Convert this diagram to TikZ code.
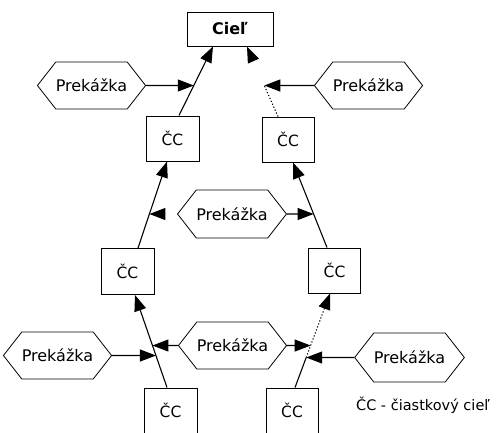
\documentclass[tikz,border=0pt]{standalone}
\usepackage{fontspec}
\setmainfont{DejaVu Sans}
\usetikzlibrary{shapes.symbols,arrows.meta,calc}
\begin{document}
\begin{tikzpicture}[x=1pt,y=-1pt,
  box/.style={draw, line width=1pt, minimum width=53pt, minimum height=45pt, inner sep=0pt, font=\fontsize{15.5}{15.5}\selectfont},
  hexa/.style={draw, line width=0.8pt, signal, signal to=west and east, signal pointer angle=104, minimum height=47pt, inner sep=0pt, font=\fontsize{16}{16}\selectfont},
  arr/.style={line width=1.1pt, -{Triangle[length=16pt,width=12pt]}},
  dotln/.style={line width=1.1pt, dash pattern=on 1.2pt off 2pt},
  lbl/.style={font=\fontsize{14.5}{14.5}\selectfont, inner sep=0pt}
]
\useasboundingbox (0,0) rectangle (502,432);

% nodes
\node[box, minimum width=86pt, minimum height=34pt, font=\fontsize{16}{16}\selectfont\bfseries] (ciel) at (230,29) {Cieľ};
\node[box] (ccL1) at (172.5,138.5) {ČC};
\node[box, minimum height=46pt] (ccL2) at (127.5,271.5) {ČC};
\node[box] (ccL3) at (170.5,410.5) {ČC};
\node[box, minimum width=52pt] (ccR6) at (288,139.5) {ČC};
\node[box, minimum width=52pt] (ccR5) at (334.5,270.5) {ČC};
\node[box, minimum width=52pt] (ccR4) at (292,410.5) {ČC};

\node[hexa, minimum width=95pt] (hex1) at (91.5,85.5) {Prekážka};
\node[hexa, minimum width=93pt] (hex2) at (368.5,85.5) {Prekážka};
\node[hexa, minimum width=84pt, minimum height=48pt] (hex3) at (232,214) {Prekážka};
\node[hexa, minimum width=99pt] (hex4) at (57.5,355.5) {Prekážka};
\node[hexa, minimum width=82pt] (hex5) at (232.5,345.5) {Prekážka};
\node[hexa, minimum width=93pt, minimum height=49pt] (hex6) at (409.5,357.5) {Prekážka};

\node[lbl] (legend) at (423,405) {ČC - čiastkový cieľ};

% connector end points
\coordinate (a1) at ($(ccL1.north)+(6.5,0)$);
\coordinate (b1) at ($(ciel.south)+(-17,0)$);
\coordinate (a2) at ($(ccR6.north)+(-10,0)$);
\coordinate (b2) at ($(ciel.south)+(17,0)$);
\coordinate (a3) at ($(ccL2.north)+(10.5,0)$);
\coordinate (b3) at ($(ccL1.south)+(-5.5,0)$);
\coordinate (a4) at ($(ccR5.north)+(-7.5,0)$);
\coordinate (b4) at ($(ccR6.south)+(5,0)$);
\coordinate (a5) at ($(ccL3.north)+(-3.5,0)$);
\coordinate (b5) at ($(ccL2.south)+(7.5,0)$);
\coordinate (a6) at ($(ccR4.north)+(3,0)$);
\coordinate (b6) at ($(ccR5.south)+(-4.5,0)$);

\coordinate (J1) at (intersection of a1--b1 and hex1.east--hex2.west);
\coordinate (J2) at (intersection of a2--b2 and hex1.east--hex2.west);
\coordinate (J3) at (intersection of a3--b3 and hex3.west--hex3.east);
\coordinate (J4) at (intersection of a4--b4 and hex3.west--hex3.east);
\coordinate (J5) at (intersection of a5--b5 and hex4.west--hex4.east);
\coordinate (J6) at (intersection of a5--b5 and hex5.west--hex5.east);
\coordinate (J7) at (intersection of a6--b6 and hex5.west--hex5.east);
\coordinate (J8) at (intersection of a6--b6 and hex6.west--hex6.east);

% goal connectors
\draw[arr] (a1) -- (b1);
\draw[dotln] (a2) -- (J2);
\draw[arr, shorten <=30pt] (J2) -- (b2);
\draw[arr] (a3) -- (b3);
\draw[arr] (a4) -- (b4);
\draw[arr] (a5) -- (b5);
\draw[line width=1.1pt] (a6) -- (J8);
\draw[dotln, -{Triangle[length=16pt,width=12pt]}] (J8) -- (b6);

% obstacle connectors
\draw[arr] (hex1.east) -- (J1);
\draw[arr] (hex2.west) -- (J2);
\draw[arr, shorten <=24pt] (hex3.west) -- (J3);
\draw[arr] (hex3.east) -- (J4);
\draw[arr] (hex4.east) -- (J5);
\draw[arr] (hex5.west) -- (J6);
\draw[arr] (hex5.east) -- (J7);
\draw[arr] (hex6.west) -- (J8);
\end{tikzpicture}
\end{document}
